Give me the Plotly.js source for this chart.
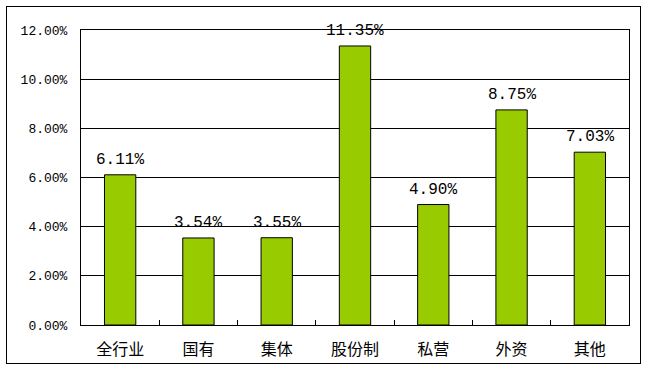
<!DOCTYPE html>
<html><head><meta charset="utf-8">
<script src="https://cdn.plot.ly/plotly-3.0.1.min.js"></script>
<style>html,body{margin:0;padding:0;background:#fff}#frame{position:absolute;left:6px;top:6px;width:633px;height:356px;border:1.5px solid #000;pointer-events:none}</style>
</head><body>
<div id="chart" style="width:648px;height:370px"></div>
<div id="frame"></div>
<script>
const categories = ["全行业","国有","集体","股份制","私营","外资","其他"];
const values = [6.11, 3.54, 3.55, 11.35, 4.90, 8.75, 7.03];
const labels = values.map(v => v.toFixed(2) + "%");
const yTicks = [0, 2, 4, 6, 8, 10, 12];
const yTickText = yTicks.map(v => v.toFixed(2) + "%");

const trace = {
  type: "bar", x: categories, y: values,
  marker: {color: "#99CC00", line: {color: "#000", width: 1}},
  hoverinfo: "none"
};
const annotations = categories.map((c, i) => ({
  x: c, y: values[i], xref: "x", yref: "y", text: labels[i],
  showarrow: false, yanchor: "bottom", yshift: 4,
  font: {family: "Liberation Mono, monospace", size: 16, color: "#000"}
}));
const layout = {
  width: 648, height: 370,
  margin: {l: 81, r: 19, t: 30, b: 45},
  paper_bgcolor: "#fff", plot_bgcolor: "#fff",
  showlegend: false, bargap: 0.6,
  xaxis: {
    type: "category", showline: true, linecolor: "#000", linewidth: 1, mirror: true,
    ticks: "inside", tickson: "boundaries", ticklen: 5, tickcolor: "#000",
    ticklabelstandoff: 10, showgrid: false,
    tickfont: {family: "Noto Sans CJK SC, sans-serif", size: 16, color: "#000"}
  },
  yaxis: {
    range: [0, 12], tickvals: yTicks, ticktext: yTickText,
    showline: true, linecolor: "#000", linewidth: 1, mirror: true,
    showgrid: true, gridcolor: "#000", gridwidth: 1, zeroline: false,
    ticks: "", ticklabelstandoff: 10,
    tickfont: {family: "Liberation Mono, monospace", size: 13, color: "#000"}
  },
  annotations: annotations
};
Plotly.newPlot("chart", [trace], layout, {staticPlot: true, displayModeBar: false});
</script>
</body></html>
